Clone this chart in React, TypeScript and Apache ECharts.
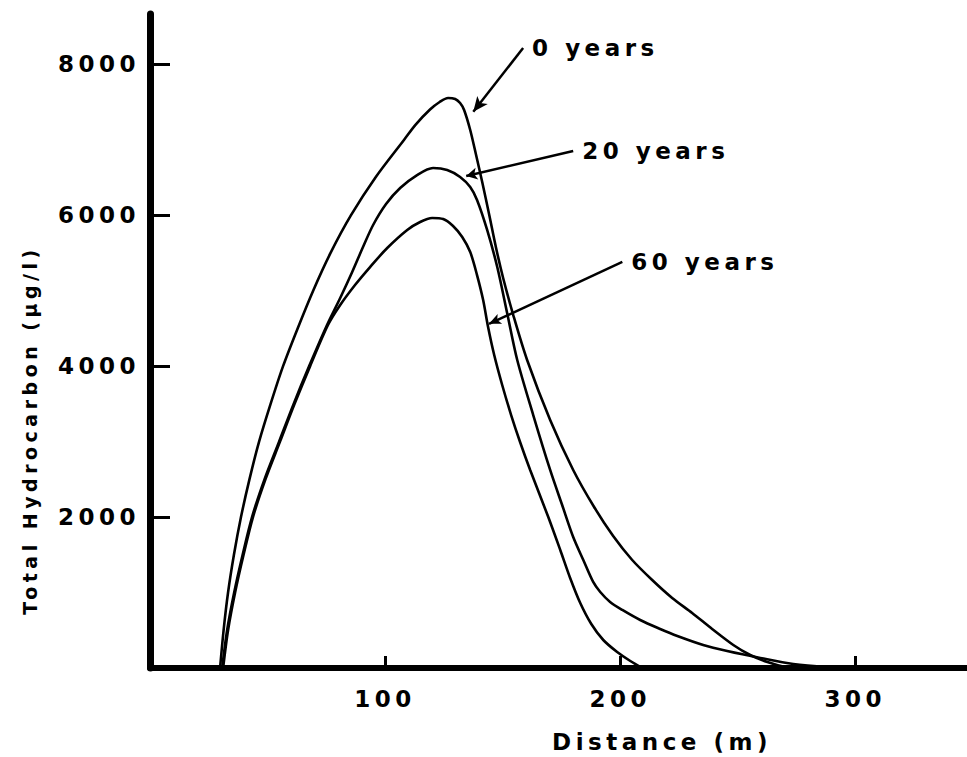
import React, { useEffect, useRef } from 'react';
import * as echarts from 'echarts';

const FONT = "'DejaVu Sans', 'Liberation Sans', sans-serif";

const xTickValues = [100, 200, 300];
const yTickValues = [2000, 4000, 6000, 8000];
const xAxisTitle = 'Distance (m)';
const yAxisTitle = 'Total Hydrocarbon (μg/l)';

// Total hydrocarbon (µg/l) versus distance (m)
const curve0: number[][] = [
  [29.8, 0], [31.3, 500], [33.2, 1000], [35.7, 1500], [38.7, 2000], [42.3, 2500],
  [46.4, 3000], [51.3, 3500], [56.6, 4000], [62.8, 4500], [69.4, 5000], [76.8, 5500],
  [85.5, 6000], [95.9, 6500], [108.1, 7000], [113, 7200], [119.1, 7400], [123.2, 7500],
  [126.8, 7553], [129.8, 7539], [131.9, 7486], [133.6, 7394], [136.2, 7129], [138.7, 6797],
  [141.3, 6440], [144.3, 6002], [147.2, 5565], [150.2, 5168], [154.5, 4677], [160.4, 4081],
  [170.2, 3286], [180, 2624], [188.9, 2133], [197, 1749], [205.1, 1431], [213.6, 1166],
  [222.1, 928], [230.6, 729], [239.1, 517], [248.1, 305], [255.3, 172], [262.6, 80],
  [270.2, 13], [275.3, 0],
];

const curve20: number[][] = [
  [30.7, 0], [32.8, 500], [35.8, 1000], [39.4, 1500], [43.4, 2000], [48.7, 2500],
  [54.9, 3000], [61.1, 3500], [67.7, 4000], [75.3, 4545], [80.9, 4903], [86, 5247],
  [90.6, 5578], [94.9, 5870], [100.4, 6148], [106.4, 6360], [113.6, 6532], [120.4, 6625],
  [126.4, 6599], [131.9, 6506], [136.2, 6373], [139.1, 6201], [143.4, 5804], [147.7, 5313],
  [151.9, 4704], [156.2, 4081], [163, 3352], [170.2, 2624], [175.3, 2160], [180, 1736],
  [184.3, 1431], [188.5, 1140], [191.5, 1007], [195.7, 875], [200.9, 769], [208.5, 636],
  [217, 517], [224.3, 424], [235.3, 305], [245.5, 225], [259.6, 133], [273.6, 53],
  [288.1, 13], [300, 0],
];

const curve60: number[][] = [
  [31.1, 0], [33.2, 500], [36.2, 1000], [39.8, 1500], [43.8, 2000], [49.1, 2500],
  [55.3, 3000], [61.5, 3500], [68.1, 4000], [75.7, 4545], [80.9, 4810], [87.2, 5075],
  [93.6, 5313], [100.9, 5565], [109.4, 5804], [114.9, 5910], [120, 5963], [124.7, 5949],
  [128.9, 5857], [132.8, 5711], [136.2, 5512], [139.1, 5207], [141.7, 4876], [143.8, 4518],
  [146.4, 4147], [149.8, 3750], [153.6, 3352], [157.4, 2995], [161.7, 2624], [169.4, 2001],
  [174.5, 1564], [178.7, 1193], [183, 861], [187.7, 583], [192.8, 371], [198.7, 212],
  [204.3, 93], [209.4, 0],
];

const curveNames = ['0 years', '20 years', '60 years'];
const labelAnchors: number[][] = [[158.7, 8215], [180, 6850], [200.9, 5380]];
const arrowPoints: number[][] = [[137.5, 7370], [134.5, 6519], [144.2, 4560]];
const arrowSizes: number[][] = [[10, 15], [9, 11], [8, 12]];

export default function App() {
  const ref = useRef<HTMLDivElement>(null);

  useEffect(() => {
    const chart = echarts.init(ref.current!, null, { renderer: 'svg' });
    const textBase = { color: '#000', fontFamily: FONT, fontWeight: 'bold' as const };
    const curve = (name: string, data: number[][]) => ({
      type: 'line',
      name,
      data,
      symbol: 'none',
      showSymbol: false,
      smooth: 0.3,
      silent: true,
      lineStyle: { color: '#000', width: 2.6 },
      emphasis: { disabled: true },
      z: 3,
    });

    chart.setOption({
      animation: false,
      backgroundColor: '#fff',
      grid: { left: 150, right: 0, top: 14, bottom: 89 },
      xAxis: {
        type: 'value',
        min: 0,
        max: 347.5,
        interval: 100,
        axisLine: { show: true, onZero: false, lineStyle: { color: '#000', width: 6 } },
        axisTick: {
          show: true,
          inside: true,
          length: 12,
          customValues: xTickValues,
          lineStyle: { color: '#000', width: 3 },
        },
        axisLabel: {
          ...textBase,
          fontSize: 23,
          margin: 19,
          customValues: xTickValues,
          formatter: (v: number) => String(v),
        },
        splitLine: { show: false },
      },
      yAxis: {
        type: 'value',
        min: 0,
        max: 8666,
        interval: 2000,
        axisLine: { show: true, onZero: false, lineStyle: { color: '#000', width: 7 } },
        axisTick: {
          show: true,
          inside: true,
          length: 20,
          customValues: yTickValues,
          lineStyle: { color: '#000', width: 3 },
        },
        axisLabel: {
          ...textBase,
          fontSize: 23,
          margin: 10,
          padding: [0, 0, 10, 0],
          customValues: yTickValues,
          formatter: (v: number) => String(v),
        },
        splitLine: { show: false },
      },
      graphic: [
        {
          type: 'text',
          x: 662,
          y: 742,
          silent: true,
          style: {
            text: xAxisTitle,
            fill: '#000',
            font: `bold 23px ${FONT}`,
            textAlign: 'center',
            textVerticalAlign: 'middle',
            align: 'center',
            verticalAlign: 'middle',
          },
        },
        {
          type: 'text',
          x: 30,
          y: 430,
          rotation: Math.PI / 2,
          silent: true,
          style: {
            text: yAxisTitle,
            fill: '#000',
            font: `bold 19px ${FONT}`,
            textAlign: 'center',
            textVerticalAlign: 'middle',
            align: 'center',
            verticalAlign: 'middle',
          },
        },
      ],
      series: [
        curve(curveNames[0], curve0),
        curve(curveNames[1], curve20),
        curve(curveNames[2], curve60),
        {
          type: 'scatter',
          name: 'labels',
          silent: true,
          symbolSize: 0,
          itemStyle: { color: 'rgba(0,0,0,0)', opacity: 1 },
          emphasis: { disabled: true },
          data: labelAnchors.map((p, i) => ({ value: p, name: curveNames[i] })),
          label: {
            show: true,
            position: 'right',
            distance: 9,
            formatter: '{b}',
            ...textBase,
            fontSize: 23,
          },
          markLine: {
            silent: true,
            animation: false,
            symbol: ['none', 'arrow'],
            label: { show: false },
            emphasis: { disabled: true },
            lineStyle: { color: '#000', width: 2.5, type: 'solid', opacity: 1 },
            itemStyle: { color: '#000', opacity: 1 },
            data: labelAnchors.map((p, i) => [
              { coord: p, symbol: 'none' },
              { coord: arrowPoints[i], symbol: 'arrow', symbolSize: arrowSizes[i] },
            ]),
          },
          z: 4,
        },
      ],
    });

    return () => chart.dispose();
  }, []);

  return (
    <div
      ref={ref}
      style={{
        position: 'fixed',
        left: 0,
        top: 0,
        width: 967,
        height: 757,
        background: '#fff',
        letterSpacing: '4.5px',
      }}
    />
  );
}
